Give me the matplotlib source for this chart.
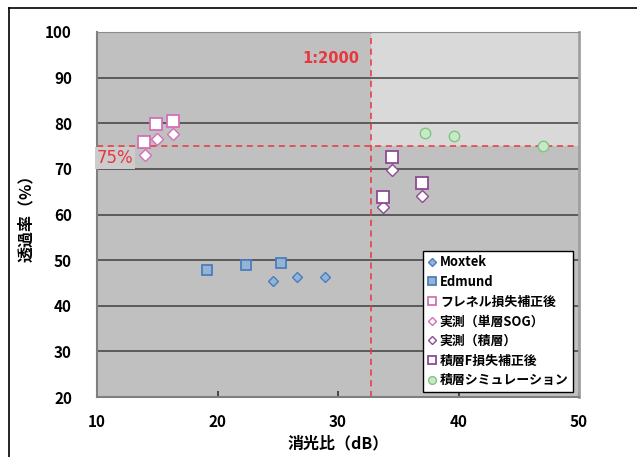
import matplotlib
matplotlib.use("Agg")
import matplotlib.pyplot as plt
from matplotlib.lines import Line2D
from matplotlib.patches import Rectangle

plt.rcParams['font.family'] = ['Noto Sans CJK JP', 'DejaVu Sans']

# measured points: extinction ratio (dB) vs transmittance (%)
moxtek_x = [24.6, 26.6, 28.9]
moxtek_y = [45.5, 46.2, 46.4]
edmund_x = [19.1, 22.4, 25.3]
edmund_y = [47.9, 49.0, 49.4]
fresnel_x = [13.9, 14.9, 16.3]
fresnel_y = [75.9, 79.8, 80.5]
sog_x = [14.0, 15.0, 16.3]
sog_y = [73.0, 76.6, 77.6]
stack_x = [33.7, 34.5, 37.0]
stack_y = [61.6, 69.8, 64.1]
stack_f_x = [33.7, 34.5, 37.0]
stack_f_y = [63.8, 72.7, 66.8]
sim_x = [37.2, 39.6, 47.0]
sim_y = [77.9, 77.3, 75.1]

target_er = 32.7      # 1:2000
target_t = 75

xticks = [10, 20, 30, 40, 50]
yticks = [20, 30, 40, 50, 60, 70, 80, 90, 100]

fig = plt.figure(figsize=(6.37, 4.57), dpi=100)
ax = fig.add_axes([97 / 637, 1 - 397 / 457, 482 / 637, 365 / 457])
ax.set_xlim(10, 50)
ax.set_ylim(20, 100)
ax.set_facecolor('#C0C0C0')

# region that clears both targets
ax.add_patch(Rectangle((target_er, target_t), 50 - target_er, 100 - target_t,
                       facecolor='#D9D9D9', edgecolor='none', zorder=0))

for y in yticks[1:-1]:
    ax.axhline(y, color='#404040', lw=1.1, zorder=1)

ax.axvline(target_er, color='#E8363C', lw=1.1, ls=(0, (4, 3)), zorder=2)
ax.axhline(target_t, color='#E8363C', lw=1.1, ls=(0, (4, 3)), zorder=2)
ax.text(31.8, 94.3, '1:2000', color='#E8363C', fontsize=10.5, fontweight='bold',
        ha='right', va='center', family=['DejaVu Sans'])
ax.text(10.0, 72.4, '75%', color='#E8363C', fontsize=12, ha='left', va='center',
        family=['DejaVu Sans'], zorder=3,
        bbox=dict(boxstyle='square,pad=0.1', facecolor='#CCCCCC', edgecolor='none'))

blue_edge = '#4A7EBB'
blue_fill = '#95B3D7'
pink = '#D36FB6'
purple = '#8E4A92'

ax.plot(moxtek_x, moxtek_y, ls='none', marker='D', ms=5.5, mfc=blue_fill, mec=blue_edge,
        mew=1, label='Moxtek', zorder=4)
ax.plot(edmund_x, edmund_y, ls='none', marker='s', ms=7, mfc=blue_fill, mec=blue_edge,
        mew=1.3, label='Edmund', zorder=4)
ax.plot(fresnel_x, fresnel_y, ls='none', marker='s', ms=8, mfc='white', mec=pink,
        mew=1.3, label='フレネル損失補正後', zorder=4)
ax.plot(sog_x, sog_y, ls='none', marker='D', ms=6, mfc='white', mec=pink,
        mew=1, label='実測（単層SOG）', zorder=4)
ax.plot(stack_x, stack_y, ls='none', marker='D', ms=6, mfc='white', mec=purple,
        mew=1, label='実測（積層）', zorder=4)
ax.plot(stack_f_x, stack_f_y, ls='none', marker='s', ms=8, mfc='white', mec=purple,
        mew=1.3, label='積層F損失補正後', zorder=4)
ax.plot(sim_x, sim_y, ls='none', marker='o', ms=7.5, mfc='#C9E8C9', mec='#7DC67D',
        mew=1, label='積層シミュレーション', zorder=4)

leg = ax.legend(loc='lower right', bbox_to_anchor=(0.988, 0.014), fontsize=9.3,
                frameon=True, fancybox=False, shadow=False, handlelength=0.6,
                handletextpad=0.35, borderpad=0.35, labelspacing=0.44,
                borderaxespad=0.0, markerscale=0.75)
leg.get_frame().set_edgecolor('black')
leg.get_frame().set_linewidth(1.0)
leg.get_frame().set_alpha(1)
for t in leg.get_texts():
    t.set_fontweight('bold')
leg.set_zorder(6)

ax.set_xticks(xticks)
ax.set_yticks(yticks)
ax.tick_params(axis='x', direction='in', length=4, width=1.2, color='#303030',
               pad=12, labelsize=11)
ax.tick_params(axis='y', length=0, pad=18, labelsize=11)
for lbl in ax.get_xticklabels() + ax.get_yticklabels():
    lbl.set_fontweight('bold')

for side in ['left', 'bottom']:
    ax.spines[side].set_color('#7F7F7F')
    ax.spines[side].set_linewidth(1.5)
ax.spines['top'].set_color('#8C8C8C')
ax.spines['right'].set_color('#A0A0A0')
ax.spines['right'].set_linewidth(2)

ax.set_xlabel('消光比（dB）', fontsize=11.5, fontweight='bold', labelpad=4)
ax.set_ylabel('透過率（%）', fontsize=11.5, fontweight='bold', labelpad=8)

# outer chart frame
fig.add_artist(Line2D([9 / 637, 9 / 637], [0, 1 - 8 / 457], color='black', lw=1.2))
fig.add_artist(Line2D([9 / 637, 1], [1 - 8 / 457, 1 - 8 / 457], color='black', lw=1.2))

fig.savefig('out.png', dpi=100)
